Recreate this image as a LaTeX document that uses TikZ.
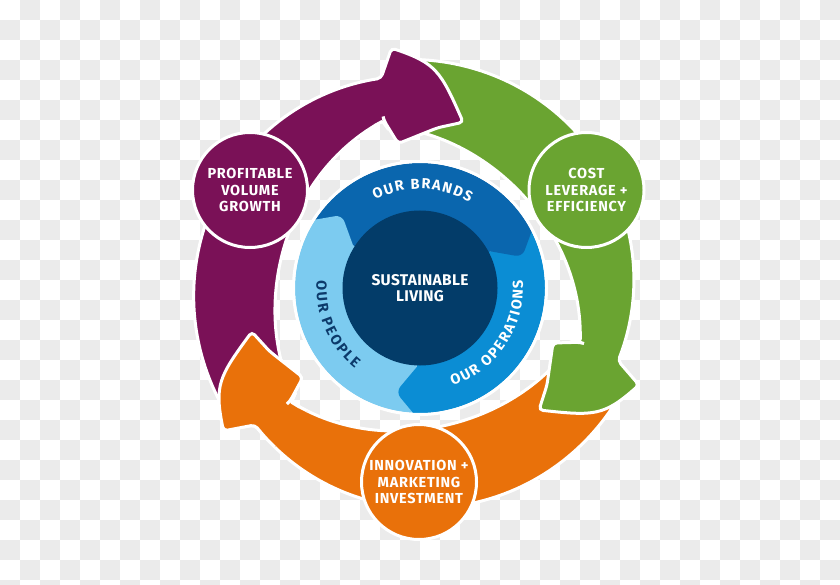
\documentclass[tikz,border=0pt]{standalone}
\usepackage{fontspec}
\setmainfont{Fira Sans}
\usetikzlibrary{decorations.text}
\definecolor{chk}{HTML}{EBEBEB}
\definecolor{purp}{HTML}{7A1157}
\definecolor{grn}{HTML}{6AA431}
\definecolor{org}{HTML}{E9710A}
\definecolor{navy}{HTML}{033C69}
\definecolor{brands}{HTML}{0A66AE}
\definecolor{ops}{HTML}{0B8DD4}
\definecolor{people}{HTML}{7CCBF0}
\definecolor{ptext}{HTML}{0C3A6B}
\newcommand\arrowshape{%
  plot[domain=94:-20,samples=60] (\x:{213+16*(\x+20)/114})
  -- (221,-97) .. controls (186,-128) and (176,-128) .. (121,-122)
  -- (129,-97) -- (135,-55) -- (-18.5:171)
  -- plot[domain=-18.5:94,samples=60] (\x:{196+56*cos(\x-225)})
  -- cycle}
\newcommand\tabshape{(-130,64) -- (-78,73) -- (-62,29) -- (-100,20) -- cycle}
\tikzset{
  arrowbody/.style={draw=white, line width=3pt, rounded corners=4pt},
  bubble/.style={circle, draw=white, line width=3pt, minimum size=115pt, inner sep=0pt,
    text=white, font=\fontsize{14.5pt}{16.5pt}\selectfont\bfseries\addfontfeature{LetterSpace=5}, align=center},
  hub/.style={circle, fill=navy, minimum size=155pt, inner sep=0pt,
    text=white, font=\fontsize{15.5pt}{16pt}\selectfont\bfseries\addfontfeature{LetterSpace=2}, align=center},
  tabpiece/.style={rounded corners=7pt},
}
\begin{document}
\begin{tikzpicture}[x=1pt,y=1pt]
\useasboundingbox (0,0) rectangle (840,-585);
\clip (0,0) rectangle (840,-585);
% checkerboard background
\fill[white] (0,0) rectangle (840,-585);
\foreach \i in {1,3,...,41}{\foreach \j in {0,2,...,28}{\fill[chk] (20*\i,-20*\j) rectangle ++(20,-20);}}
\foreach \i in {0,2,...,40}{\foreach \j in {1,3,...,29}{\fill[chk] (20*\i,-20*\j) rectangle ++(20,-20);}}
% outer arrows
\begin{scope}[shift={(418,-288)},rotate=240]
  \fill[org,arrowbody] \arrowshape;
\end{scope}
\begin{scope}[shift={(418,-288)}]
  \fill[grn,arrowbody] \arrowshape;
\end{scope}
\begin{scope}[shift={(418,-288)},rotate=120]
  \fill[purp,arrowbody] \arrowshape;
\end{scope}
\begin{scope}[shift={(418,-288)},rotate=240]
  \clip (0,0) -- (-52:290) arc[start angle=-52,end angle=-12,radius=290] -- cycle;
  \fill[org,arrowbody] \arrowshape;
\end{scope}
% stage circles
\node[bubble, fill=purp] (pvg) at (250,-190) {PROFITABLE\\VOLUME\\GROWTH};
\node[bubble, fill=grn] (cle) at (586.5,-190) {COST\\LEVERAGE +\\EFFICIENCY};
\node[bubble, fill=org] (imi) at (419,-482) {INNOVATION +\\MARKETING\\INVESTMENT};
% inner blue ring
\begin{scope}[shift={(420,-288)}]
  \fill[brands] (0,0) -- (147.5:125) arc[start angle=147.5,end angle=27.5,radius=125] -- cycle;
  \fill[ops] (0,0) -- (27.5:125) arc[start angle=27.5,end angle=-92.5,radius=125] -- cycle;
  \fill[people] (0,0) -- (-92.5:125) arc[start angle=-92.5,end angle=-212.5,radius=125] -- cycle;
  \begin{scope}
    \clip (0,0) circle (125pt);
    \fill[people,tabpiece] \tabshape;
    \begin{scope}[rotate=-120]\fill[brands,tabpiece] \tabshape;\end{scope}
    \begin{scope}[rotate=-240]\fill[ops,tabpiece] \tabshape;\end{scope}
  \end{scope}
  \draw[white,line width=3pt] (0,0) circle (126.5pt);
  \path[decorate,decoration={text along path,text align=fit to path,text color=white,
    text={|\fontsize{14.5pt}{16pt}\selectfont\bfseries|OUR BRANDS}}]
    (117:99) arc[start angle=117,end angle=60,radius=99];
  \path[decorate,decoration={text along path,text align=fit to path,text color=white,
    text={|\fontsize{14.5pt}{16pt}\selectfont\bfseries|OUR OPERATIONS}}]
    (-71.5:103) arc[start angle=-71.5,end angle=4.5,radius=103];
  \path[decorate,decoration={text along path,text align=fit to path,text color=ptext,
    text={|\fontsize{14.5pt}{16pt}\selectfont\bfseries|OUR PEOPLE}}]
    (176:103.5) arc[start angle=176,end angle=231,radius=103.5];
\end{scope}
\node[hub] (sl) at (420,-288) {SUSTAINABLE\\LIVING};
\end{tikzpicture}
\end{document}
